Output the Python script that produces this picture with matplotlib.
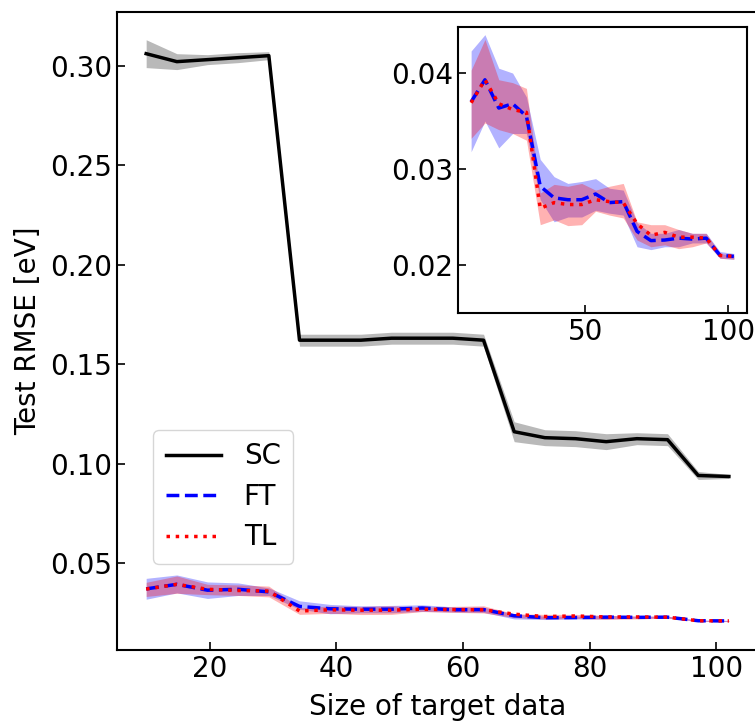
import numpy as np
import matplotlib.pyplot as plt

# target-data sizes
sizes = np.linspace(10, 102, 20)

# scratch (SC) model
sc_mean = [0.306, 0.302, 0.303, 0.304, 0.305, 0.162, 0.162, 0.162, 0.163, 0.163,
           0.163, 0.162, 0.116, 0.113, 0.1125, 0.111, 0.1125, 0.112, 0.094, 0.0935]
sc_std = [0.007, 0.004, 0.0025, 0.0025, 0.002, 0.003, 0.003, 0.003, 0.003, 0.003,
          0.003, 0.003, 0.005, 0.004, 0.004, 0.004, 0.003, 0.003, 0.002, 0.001]

# fine tuning (FT)
ft_mean = [0.0370, 0.0393, 0.03635, 0.0368, 0.0355, 0.0282, 0.0270, 0.0268, 0.0268, 0.0274,
           0.0265, 0.0266, 0.0235, 0.02254, 0.0226, 0.0228, 0.0227, 0.0228, 0.0210, 0.0209]
ft_hi = [0.0423, 0.0440, 0.0405, 0.0400, 0.0375, 0.0310, 0.0292, 0.0285, 0.0287, 0.0290,
         0.0280, 0.0278, 0.0244, 0.0233, 0.0233, 0.0237, 0.0233, 0.0233, 0.0214, 0.0212]
ft_lo = [0.0318, 0.0350, 0.0322, 0.0337, 0.0337, 0.0268, 0.0245, 0.0250, 0.0250, 0.0257,
         0.0254, 0.0252, 0.0219, 0.0216, 0.0219, 0.0219, 0.0223, 0.0223, 0.0207, 0.0206]

# transfer learning (TL)
tl_mean = [0.0369, 0.0393, 0.0368, 0.0362, 0.0359, 0.0259, 0.0265, 0.0263, 0.0263, 0.0268,
           0.0266, 0.0265, 0.0243, 0.0231, 0.0234, 0.0229, 0.0229, 0.0228, 0.0210, 0.0209]
tl_hi = [0.0403, 0.0435, 0.0393, 0.0390, 0.0384, 0.0275, 0.0284, 0.0282, 0.0285, 0.0278,
         0.0282, 0.0285, 0.0245, 0.0242, 0.0242, 0.0237, 0.0233, 0.0233, 0.0212, 0.0210]
tl_lo = [0.0332, 0.0348, 0.0341, 0.0337, 0.0330, 0.0242, 0.0247, 0.0241, 0.0242, 0.0256,
         0.0252, 0.0249, 0.0226, 0.0219, 0.0221, 0.0217, 0.0219, 0.0223, 0.0207, 0.0206]

sc_mean = np.array(sc_mean)
sc_std = np.array(sc_std)

plt.rcParams['font.size'] = 20

fig = plt.figure(figsize=(7.55, 7.21), dpi=100)
ax = fig.add_axes([0.155, 0.0985, 0.849, 0.885])


def draw(a, lw=2.5):
    a.plot(sizes, sc_mean, '-', color='black', lw=lw, label='SC')
    a.fill_between(sizes, sc_mean - sc_std, sc_mean + sc_std, color='grey', alpha=0.55, lw=0)
    a.plot(sizes, ft_mean, '--', color='blue', lw=lw, label='FT')
    a.fill_between(sizes, ft_lo, ft_hi, color='blue', alpha=0.3, lw=0)
    a.plot(sizes, tl_mean, ':', color='red', lw=lw, label='TL')
    a.fill_between(sizes, tl_lo, tl_hi, color='red', alpha=0.3, lw=0)


draw(ax)
ax.set_xlim(5.4, 106.6)
ax.set_ylim(0.0063, 0.327)
ax.set_xticks([20, 40, 60, 80, 100])
ax.set_yticks([0.05, 0.10, 0.15, 0.20, 0.25, 0.30])
ax.tick_params(direction='in', length=6, width=1.2)
for s in ax.spines.values():
    s.set_linewidth(1.5)
ax.set_xlabel('Size of target data', labelpad=7)
ax.set_ylabel('Test RMSE [eV]', labelpad=6)
ax.legend(loc='lower left', bbox_to_anchor=(0.035, 0.113), handlelength=2.0,
          borderpad=0.45, labelspacing=0.45)

# zoomed inset for FT / TL
ins = fig.add_axes([0.6066, 0.5659, 0.3828, 0.3967])
draw(ins)
ins.set_xlim(5.4, 106.6)
ins.set_ylim(0.015, 0.0448)
ins.set_xticks([50, 100])
ins.set_yticks([0.02, 0.03, 0.04])
ins.tick_params(direction='in', length=6, width=1.2)
for s in ins.spines.values():
    s.set_linewidth(1.5)

fig.savefig('out.png', dpi=100)
